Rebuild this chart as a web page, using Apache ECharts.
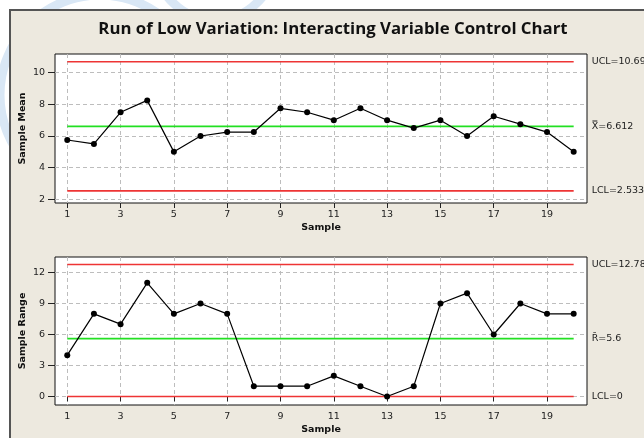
<!DOCTYPE html>
<html>
<head>
<meta charset="utf-8">
<script src="https://cdn.jsdelivr.net/npm/echarts@6/dist/echarts.min.js"></script>
<style>
  html, body { margin: 0; padding: 0; background: #fff; }
  #chart { width: 644px; height: 438px; }
</style>
</head>
<body>
<div id="chart"></div>
<script>
// Subgroup numbers and the two plotted statistics
const samples = [1, 2, 3, 4, 5, 6, 7, 8, 9, 10, 11, 12, 13, 14, 15, 16, 17, 18, 19, 20];
const sampleMean = [5.75, 5.5, 7.5, 8.25, 5, 6, 6.25, 6.25, 7.75, 7.5, 7, 7.75, 7, 6.5, 7, 6, 7.25, 6.75, 6.25, 5];
const sampleRange = [4, 8, 7, 11, 8, 9, 8, 1, 1, 1, 2, 1, 0, 1, 9, 10, 6, 9, 8, 8];

// Control limits: [UCL, centre line, LCL]
const meanLimits = [10.69, 6.612, 2.533];
const rangeLimits = [12.78, 5.6, 0];
const meanLimitText = ['UCL=10.69', 'X\u033F=6.612', 'LCL=2.533'];
const rangeLimitText = ['UCL=12.78', 'R\u0304=5.6', 'LCL=0'];

// Tick positions
const sampleTicks = [1, 3, 5, 7, 9, 11, 13, 15, 17, 19];
const meanTicks = [2, 4, 6, 8, 10];
const rangeTicks = [0, 3, 6, 9, 12];

const FONT = 'DejaVu Sans';
const BG = '#EDE9DF';
const RED = '#EE3434';
const GREEN = '#22E022';

const chart = echarts.init(document.getElementById('chart'), null, { renderer: 'canvas' });

function xAxisFor(gridIndex) {
  return {
    type: 'value', gridIndex, min: 0.54, max: 20.5,
    name: 'Sample', nameLocation: 'middle', nameGap: 20,
    nameTextStyle: { fontFamily: FONT, fontWeight: 'bold', fontSize: 9.5, color: '#111' },
    axisLine: { show: false },
    axisTick: { show: true, length: 5, customValues: sampleTicks, lineStyle: { color: '#222' } },
    axisLabel: { customValues: sampleTicks, fontFamily: FONT, fontSize: 9.5, color: '#222', margin: 7 },
    splitLine: { show: true, lineStyle: { color: '#bdbdbd', type: [4, 3], width: 1 } }
  };
}

function yAxisFor(gridIndex, name, min, max, ticks) {
  return {
    type: 'value', gridIndex, min, max,
    name, nameLocation: 'middle', nameGap: 27, nameMoveOverlap: false,
    nameTextStyle: { fontFamily: FONT, fontWeight: 'bold', fontSize: 9.5, color: '#111' },
    axisLine: { show: false },
    axisTick: { show: true, length: 7, customValues: ticks, lineStyle: { color: '#222' } },
    axisLabel: { customValues: ticks, fontFamily: FONT, fontSize: 9.5, color: '#222', margin: 10 },
    splitLine: { show: true, lineStyle: { color: '#bdbdbd', type: [4, 3], width: 1 } }
  };
}

function limitSeries(axisIndex, value, text, color) {
  return {
    type: 'line', xAxisIndex: axisIndex, yAxisIndex: axisIndex,
    symbol: 'none', silent: true, z: 3,
    lineStyle: { color, width: 1.6 },
    endLabel: {
      show: true, distance: 18, formatter: text,
      fontFamily: FONT, fontSize: 9.5, color: '#222'
    },
    data: [[samples[0], value], [samples[samples.length - 1], value]]
  };
}

function dataSeries(axisIndex, values) {
  return {
    type: 'line', xAxisIndex: axisIndex, yAxisIndex: axisIndex, z: 5,
    symbol: 'circle', symbolSize: 6,
    itemStyle: { color: '#000' },
    lineStyle: { color: '#000', width: 1.2 },
    data: samples.map((s, i) => [s, values[i]])
  };
}

const option = {
  animation: false,
  backgroundColor: '#fff',
  grid: [
    { left: 55, top: 54, width: 532, height: 149, show: true, backgroundColor: '#fff', borderColor: '#111', borderWidth: 1 },
    { left: 55, top: 257, width: 532, height: 148, show: true, backgroundColor: '#fff', borderColor: '#111', borderWidth: 1 }
  ],
  xAxis: [xAxisFor(0), xAxisFor(1)],
  yAxis: [
    yAxisFor(0, 'Sample Mean', 1.77, 11.18, meanTicks),
    yAxisFor(1, 'Sample Range', -0.82, 13.5, rangeTicks)
  ],
  series: [
    limitSeries(0, meanLimits[0], meanLimitText[0], RED),
    limitSeries(0, meanLimits[1], meanLimitText[1], GREEN),
    limitSeries(0, meanLimits[2], meanLimitText[2], RED),
    dataSeries(0, sampleMean),
    limitSeries(1, rangeLimits[0], rangeLimitText[0], RED),
    limitSeries(1, rangeLimits[1], rangeLimitText[1], GREEN),
    limitSeries(1, rangeLimits[2], rangeLimitText[2], RED),
    dataSeries(1, sampleRange)
  ],
  graphic: [
    // faint logo arcs in the outer margin
    { type: 'arc', z: -30, shape: { cx: 100, cy: 95, r: 100, startAngle: 0, endAngle: Math.PI * 2 },
      style: { fill: null, stroke: '#d9e7f5', lineWidth: 9 } },
    { type: 'arc', z: -30, shape: { cx: 215, cy: -40, r: 60, startAngle: 0, endAngle: Math.PI * 2 },
      style: { fill: null, stroke: '#d9e7f5', lineWidth: 9 } },
    // panel
    { type: 'rect', z: -20, shape: { x: 10, y: 10, width: 650, height: 450 },
      style: { fill: BG, stroke: '#555', lineWidth: 2 } },
    { type: 'text', z: 10, x: 333, y: 29,
      style: { text: 'Run of Low Variation: Interacting Variable Control Chart',
        font: 'bold 16.8px "Open Sans"', fill: '#111', textAlign: 'center', textVerticalAlign: 'middle' } }
  ]
};

chart.setOption(option);
</script>
</body>
</html>
